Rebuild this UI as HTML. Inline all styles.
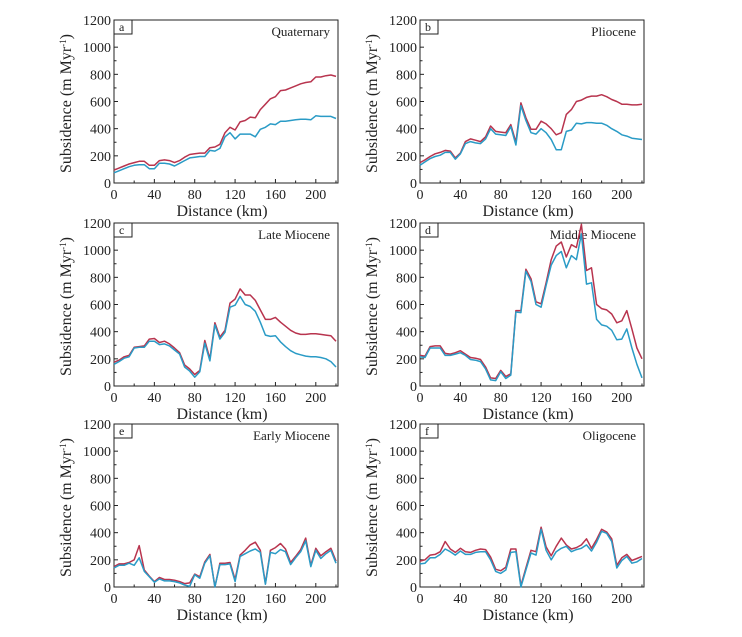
<!DOCTYPE html>
<html><head><meta charset="utf-8"><style>
body{margin:0;background:#fff;}
svg{display:block;}
text{font-family:"Liberation Serif",serif;fill:#222;}
</style></head><body>
<svg id="chart" width="742" height="637" viewBox="0 0 742 637" xmlns="http://www.w3.org/2000/svg"></svg>
<script>
const distance=[0,5,10,15,20,25,30,35,40,45,50,55,60,65,70,75,80,85,90,95,100,105,110,115,120,125,130,135,140,145,150,155,160,165,170,175,180,185,190,195,200,205,210,215,220];
const xTicks=[0,40,80,120,160,200];
const yTicks=[0,200,400,600,800,1000,1200];
const panelLetters=["a","b","c","d","e","f"];
const panelTitles=["Quaternary","Pliocene","Late Miocene","Middle Miocene","Early Miocene","Oligocene"];
const redA=[95,110,125,140,150,160,160,130,130,165,170,165,150,165,190,210,215,220,220,260,265,285,370,410,390,450,460,485,480,540,580,620,635,680,685,700,715,730,740,745,780,780,790,795,785];
const blueA=[75,90,105,120,130,135,135,105,105,145,145,140,125,145,165,185,190,195,195,240,235,255,340,370,325,360,360,360,340,395,410,435,430,455,455,460,465,470,470,465,495,490,490,490,475];
const redB=[150,170,195,215,225,240,235,185,220,305,325,315,305,340,420,380,375,370,430,300,590,480,395,395,455,435,400,355,370,505,540,600,610,630,640,640,650,635,615,600,580,580,575,575,580];
const blueB=[130,155,180,195,205,225,225,175,215,290,305,295,290,325,400,360,355,350,415,280,570,460,370,360,400,370,320,245,245,380,390,440,435,445,445,440,440,425,400,380,355,345,330,325,320];
const redC=[175,190,215,225,285,290,295,345,350,320,330,310,280,245,155,125,85,115,335,200,465,360,410,610,640,715,670,670,630,560,490,490,505,470,440,410,390,380,380,385,385,380,375,370,330];
const blueC=[160,180,205,215,280,285,285,330,330,305,310,295,265,235,140,110,65,105,315,185,450,345,395,580,595,660,600,585,550,470,375,365,370,325,290,260,240,230,220,215,215,210,200,180,140];
const redD=[225,220,290,295,295,240,235,245,260,235,210,205,195,140,60,55,115,70,90,555,555,860,790,620,605,760,930,1030,1060,950,1040,1020,1190,850,870,600,570,560,530,465,480,555,420,280,200];
const blueD=[215,210,280,280,280,225,225,235,245,225,195,190,180,125,45,40,105,55,80,545,540,845,770,600,580,740,890,960,990,870,960,930,1120,750,760,490,450,440,410,340,345,420,280,160,60];
const redE=[150,170,170,180,200,305,125,80,40,70,55,55,50,40,25,30,95,75,185,240,0,175,175,180,55,235,270,310,330,270,25,270,290,320,280,180,225,275,360,160,285,230,260,285,190];
const blueE=[140,160,160,175,160,215,115,75,35,60,45,45,40,30,15,5,90,65,175,230,0,165,165,170,40,225,245,265,280,255,20,255,245,275,260,165,215,260,340,150,270,210,245,270,175];
const redF=[190,200,235,240,260,335,280,255,285,260,255,270,280,275,220,130,120,145,280,280,10,140,270,260,440,295,230,300,360,310,280,290,310,355,285,350,425,405,355,160,215,240,195,210,225];
const blueF=[170,175,215,215,240,280,260,235,265,240,240,255,260,260,200,115,100,125,255,260,0,125,250,235,425,270,200,260,285,300,260,275,285,310,265,330,410,395,335,140,195,225,175,185,210];
const redSeries=[redA,redB,redC,redD,redE,redF];
const blueSeries=[blueA,blueB,blueC,blueD,blueE,blueF];

const svg=document.getElementById('chart');
const NS='http://www.w3.org/2000/svg';
function mk(tag,attrs,parent,txt){const e=document.createElementNS(NS,tag);for(const k in attrs)e.setAttribute(k,attrs[k]);if(txt!==undefined)e.textContent=txt;parent.appendChild(e);return e;}
const lefts=[114,420];
const tops=[20,223,424];
const PW=224,PH=163,XMAX=222,YMAX=1200;
for(let p=0;p<6;p++){
  const L=lefts[p%2],T=tops[Math.floor(p/2)],B=T+PH;
  const xs=v=>L+v/XMAX*PW, ys=v=>B-v/YMAX*PH;
  const g=mk('g',{},svg);
  
  
  const fr=mk('rect',{x:L,y:T,width:PW,height:PH,fill:'none',stroke:'#222','stroke-width':1},g);
  
  
  for(let v=0;v<=220;v+=20){const x=xs(v);mk('line',{x1:x,x2:x,y1:B,y2:B-(v%40===0?4:2.5),stroke:'#222'},g);}
  for(const v of xTicks){const t=mk('text',{x:xs(v),y:B+16,'text-anchor':'middle','font-size':14},g,String(v));}
  for(let v=0;v<=1200;v+=100){const y=ys(v);mk('line',{x1:L,x2:L+(v%200===0?4:2.5),y1:y,y2:y,stroke:'#222'},g);}
  for(const v of yTicks){const t=mk('text',{x:L-3,y:ys(v)+5,'text-anchor':'end','font-size':14},g,String(v));}
  const xl=mk('text',{x:L+PW/2-4,y:B+33,'text-anchor':'middle','font-size':16},g,'Distance (km)');
  
  const yl=mk('text',{x:0,y:0,'text-anchor':'middle','font-size':16,transform:`translate(${L-43},${T+PH/2+2}) rotate(-90)`},g);
  
  yl.appendChild(document.createTextNode('Subsidence (m Myr'));
  mk('tspan',{dy:-5,'font-size':9},yl,'-1');
  mk('tspan',{dy:5},yl,')');
  const lb=mk('rect',{x:L,y:T,width:18,height:14,fill:'#fff',stroke:'#222'},g);
  
  const lt=mk('text',{x:L+5,y:T+11,'font-size':12},g,panelLetters[p]);
  
  const tt=mk('text',{x:L+PW-8,y:T+16,'text-anchor':'end','font-size':13},g,panelTitles[p]);
  
  const mkLine=(arr,col,name)=>{
    const d=arr.map((v,i)=>(i?'L':'M')+xs(distance[i]).toFixed(1)+','+ys(v).toFixed(1)).join('');
    const pl=mk('path',{d:d,fill:'none',stroke:col,'stroke-width':1.5,'stroke-linejoin':'round'},g);
    
    
  };
  mkLine(redSeries[p],'#b8344e','red-series-line');
  mkLine(blueSeries[p],'#2a9bc6','blue-series-line');
}
</script>
</body></html>
